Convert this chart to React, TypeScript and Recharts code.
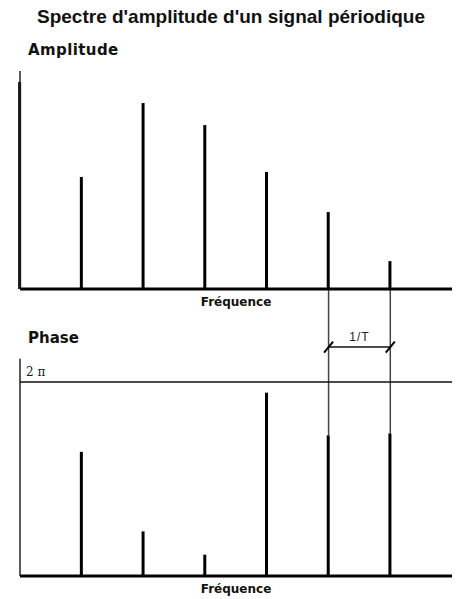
import React from 'react';
import { ComposedChart, Bar, XAxis, YAxis, ReferenceLine, ReferenceDot } from 'recharts';

// harmonics, as multiples of the fundamental 1/T
const harmonics = [0, 1, 2, 3, 4, 5, 6];
// amplitude of each line, arbitrary units (0-100)
const amplitudes = [95, 51.4, 85.3, 75.2, 53.7, 35.3, 12.8];
// phase of each line, in units of pi (no phase at DC)
const phases = [null, 1.28, 0.46, 0.22, 1.89, 1.45, 1.47];

// the two lines used to show the spacing 1/T
const periodMarks = [5, 6];
const periodLabel = '1/T';
const periodLevel = 2.36; // in units of pi, on the phase scale
const twoPiLevel = 2;
const twoPiLabel = '2 π';

const amplitudeData = harmonics.map((k, i) => ({ k, amp: amplitudes[i] }));
const phaseData = harmonics.map((k, i) => ({ k, phase: phases[i] }));

const labelFont = '"DejaVu Sans", Verdana, sans-serif';

const Slash = (props: any) => {
  const { cx, cy } = props;
  return <line x1={cx - 4.5} y1={cy + 5.5} x2={cx + 4.5} y2={cy - 5.5} stroke="#000" strokeWidth={2} />;
};

const textStyle = (left: number, top: number, size: number): React.CSSProperties => ({
  position: 'absolute',
  left,
  top,
  fontFamily: labelFont,
  fontWeight: 'bold',
  fontSize: size,
  lineHeight: 1,
  color: '#111',
  whiteSpace: 'nowrap',
});

export default function App() {
  return (
    <div style={{ position: 'absolute', left: 0, top: 0, width: 457, height: 599, background: '#fff', overflow: 'hidden' }}>
      <div
        style={{
          position: 'absolute',
          left: 37,
          top: 7,
          whiteSpace: 'nowrap',
          fontFamily: '"Liberation Sans", Arial, sans-serif',
          fontWeight: 'bold',
          fontSize: 19,
          lineHeight: 1,
          color: '#111',
        }}
      >
        Spectre d'amplitude d'un signal périodique
      </div>
      <div style={{ ...textStyle(28, 43, 15), letterSpacing: 0.4 }}>Amplitude</div>
      <div style={{ ...textStyle(28, 331, 15) }}>Phase</div>
      <div style={{ ...textStyle(0, 296, 12), width: 472, textAlign: 'center' }}>Fréquence</div>
      <div style={{ ...textStyle(0, 583, 12), width: 472, textAlign: 'center' }}>Fréquence</div>

      {/* phase spectrum, drawn first so the amplitude lines sit on top */}
      <div style={{ position: 'absolute', left: 0, top: 0 }}>
        <ComposedChart width={457} height={599} data={phaseData} margin={{ top: 285, right: 5, bottom: 23, left: 20 }}>
          <XAxis type="number" dataKey="k" domain={[0, 7]} hide />
          <YAxis type="number" domain={[0, 3]} hide />
          <ReferenceLine segment={[{ x: 0, y: 0 }, { x: 0, y: 2.24 }]} stroke="#222" strokeWidth={1.5} />
          {periodMarks.map((k) => (
            <ReferenceLine
              key={`c${k}`}
              segment={[{ x: k, y: phases[k] as number }, { x: k, y: 3 }]}
              stroke="#444"
              strokeWidth={1.5}
            />
          ))}
          <ReferenceLine
            y={twoPiLevel}
            stroke="#111"
            strokeWidth={1.5}
            label={{
              value: twoPiLabel,
              position: 'insideBottomLeft',
              offset: 6,
              fill: '#222',
              fontSize: 12,
              fontFamily: '"DejaVu Serif", "Liberation Serif", serif',
            }}
          />
          <ReferenceLine
            segment={[{ x: periodMarks[0], y: periodLevel }, { x: periodMarks[1], y: periodLevel }]}
            stroke="#111"
            strokeWidth={1.5}
            label={{
              value: periodLabel,
              position: 'top',
              offset: 6,
              fill: '#222',
              fontSize: 12,
              letterSpacing: 1,
              fontFamily: '"Liberation Sans", Arial, sans-serif',
            }}
          />
          {periodMarks.map((k) => (
            <ReferenceDot key={`s${k}`} x={k} y={periodLevel} shape={Slash} />
          ))}
          <Bar dataKey="phase" barSize={3} fill="#000" isAnimationActive={false} />
          <ReferenceLine y={0} stroke="#000" strokeWidth={3} />
        </ComposedChart>
      </div>

      {/* amplitude spectrum */}
      <div style={{ position: 'absolute', left: 0, top: 0 }}>
        <ComposedChart width={457} height={300} data={amplitudeData} margin={{ top: 71, right: 5, bottom: 11, left: 20 }}>
          <XAxis type="number" dataKey="k" domain={[0, 7]} hide />
          <YAxis type="number" domain={[0, 100]} hide />
          <ReferenceLine segment={[{ x: 0, y: 0 }, { x: 0, y: 100 }]} stroke="#222" strokeWidth={1.5} />
          <Bar dataKey="amp" barSize={3} fill="#000" isAnimationActive={false} />
          <ReferenceLine y={0} stroke="#000" strokeWidth={3} />
        </ComposedChart>
      </div>
    </div>
  );
}
